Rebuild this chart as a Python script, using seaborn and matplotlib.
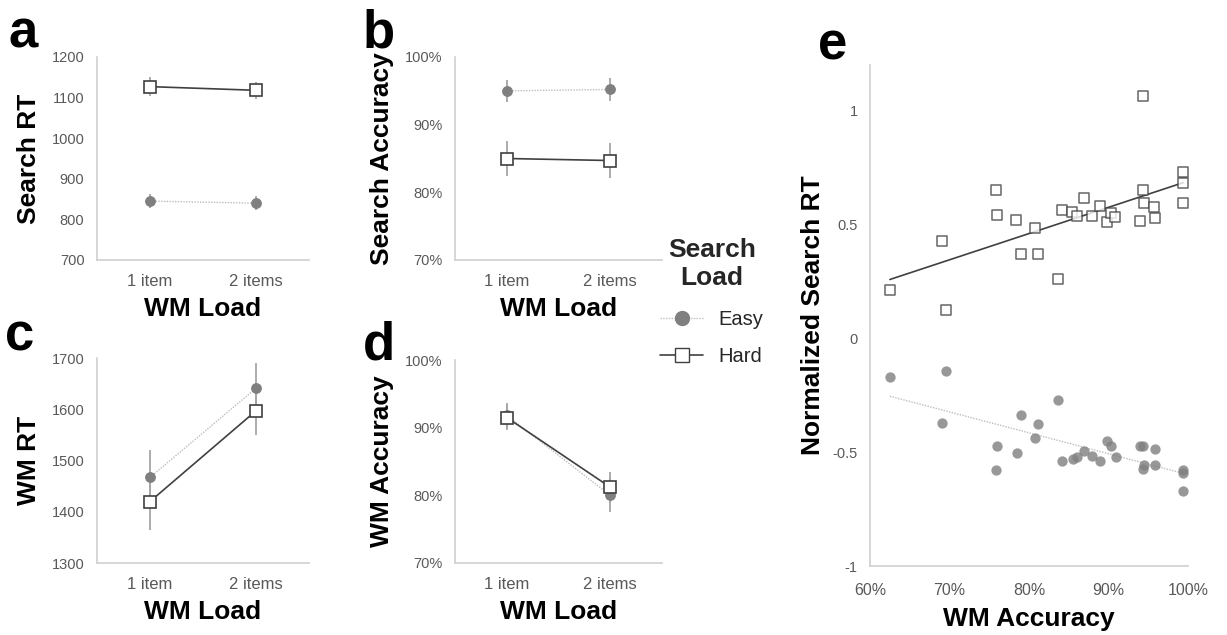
import numpy as np
import pandas as pd
import matplotlib
matplotlib.use("Agg")
import matplotlib.pyplot as plt
from matplotlib.lines import Line2D
from matplotlib.ticker import FuncFormatter
import seaborn as sns

# ---------------- data ----------------
wm_load = ["1 item", "2 items"]

search_rt_easy = [845, 840]
search_rt_easy_err = [18, 18]
search_rt_hard = [1127, 1118]
search_rt_hard_err = [23, 21]

search_acc_easy = [0.950, 0.952]
search_acc_easy_err = [0.016, 0.017]
search_acc_hard = [0.850, 0.847]
search_acc_hard_err = [0.026, 0.026]

wm_rt_easy = [1467, 1641]
wm_rt_easy_err = [53, 50]
wm_rt_hard = [1420, 1597]
wm_rt_hard_err = [55, 47]

wm_acc_easy = [0.918, 0.800]
wm_acc_easy_err = [0.019, 0.025]
wm_acc_hard = [0.915, 0.812]
wm_acc_hard_err = [0.019, 0.023]

hard_x = [0.625, 0.690, 0.696, 0.758, 0.760, 0.784, 0.790, 0.811, 0.807, 0.837,
          0.842, 0.854, 0.861, 0.869, 0.879, 0.889, 0.898, 0.903, 0.908, 0.939,
          0.943, 0.943, 0.945, 0.957, 0.958, 0.994, 0.994, 0.994]
hard_y = [0.21, 0.425, 0.126, 0.652, 0.543, 0.519, 0.370, 0.370, 0.484, 0.259,
          0.564, 0.554, 0.535, 0.615, 0.538, 0.583, 0.510, 0.550, 0.531, 0.513,
          1.063, 0.650, 0.593, 0.575, 0.528, 0.732, 0.681, 0.593]
easy_x = [0.625, 0.696, 0.690, 0.760, 0.759, 0.785, 0.790, 0.811, 0.807, 0.837,
          0.842, 0.855, 0.861, 0.869, 0.879, 0.889, 0.898, 0.903, 0.909, 0.939,
          0.944, 0.943, 0.945, 0.958, 0.958, 0.994, 0.994, 0.994]
easy_y = [-0.170, -0.145, -0.374, -0.474, -0.580, -0.503, -0.335, -0.376, -0.440, -0.269,
          -0.539, -0.532, -0.522, -0.496, -0.515, -0.537, -0.452, -0.474, -0.522, -0.474,
          -0.474, -0.573, -0.557, -0.485, -0.557, -0.580, -0.591, -0.671]

# ---------------- style ----------------
sns.set_theme(style="white")
plt.rcParams['font.family'] = ['Liberation Sans', 'DejaVu Sans']

EASY_MK = "#7f7f7f"
EASY_LN = "#bdbdbd"
HARD_LN = "#404040"
ERR_C = "#a6a6a6"
SPINE_C = "#d0d0d0"
TICK_C = "#595959"
LABEL_FS = 19

W, H = 1227, 635
fig = plt.figure(figsize=(W / 100, H / 100), dpi=100)


def axes_px(left, top, right, bottom):
    return fig.add_axes([left / W, 1 - bottom / H, (right - left) / W, (bottom - top) / H])


def style_axes(ax, xfs=12, yfs=10.5):
    for s in ["top", "right"]:
        ax.spines[s].set_visible(False)
    for s in ["left", "bottom"]:
        ax.spines[s].set_color(SPINE_C)
        ax.spines[s].set_linewidth(1.2)
    ax.tick_params(axis="x", length=0, pad=10, labelsize=xfs, labelcolor=TICK_C)
    ax.tick_params(axis="y", length=0, pad=9, labelsize=yfs, labelcolor=TICK_C)
    ax.grid(False)


def small_panel(ax, easy, easy_err, hard, hard_err, ylim, yticks, ylabel, pct=False):
    df = pd.DataFrame({"load": wm_load * 2,
                       "val": list(easy) + list(hard),
                       "cond": ["Easy"] * 2 + ["Hard"] * 2})
    ax.errorbar(wm_load, easy, yerr=easy_err, fmt="none", ecolor=ERR_C, elinewidth=1.3, capsize=0, zorder=1)
    ax.errorbar(wm_load, hard, yerr=hard_err, fmt="none", ecolor=ERR_C, elinewidth=1.3, capsize=0, zorder=1)
    sns.lineplot(data=df[df.cond == "Easy"], x="load", y="val", ax=ax, color=EASY_LN,
                 linestyle=(0, (1, 1)), lw=1.0, marker="o", markersize=7,
                 markerfacecolor=EASY_MK, markeredgecolor=EASY_MK, zorder=2)
    sns.lineplot(data=df[df.cond == "Hard"], x="load", y="val", ax=ax, color=HARD_LN,
                 lw=1.2, marker="s", markersize=8, markerfacecolor="white",
                 markeredgecolor=HARD_LN, markeredgewidth=1.2, zorder=3)
    ax.set_xlim(-0.5, 1.5)
    ax.set_ylim(*ylim)
    ax.set_yticks(yticks)
    if pct:
        ax.yaxis.set_major_formatter(FuncFormatter(lambda v, p: f"{v*100:.0f}%"))
    style_axes(ax)
    ax.set_xlabel("WM Load", fontsize=LABEL_FS, fontweight="bold", color="black", labelpad=6)
    ax.set_ylabel(ylabel, fontsize=LABEL_FS, fontweight="bold", color="black", labelpad=8)


ax_a = axes_px(97, 57, 309, 260)
small_panel(ax_a, search_rt_easy, search_rt_easy_err, search_rt_hard, search_rt_hard_err,
            (700, 1200), [700, 800, 900, 1000, 1100, 1200], "Search RT")

ax_b = axes_px(455, 57, 662, 260)
small_panel(ax_b, search_acc_easy, search_acc_easy_err, search_acc_hard, search_acc_hard_err,
            (0.7, 1.0), [0.7, 0.8, 0.9, 1.0], "Search Accuracy", pct=True)

ax_c = axes_px(97, 358, 309, 563)
small_panel(ax_c, wm_rt_easy, wm_rt_easy_err, wm_rt_hard, wm_rt_hard_err,
            (1300, 1700), [1300, 1400, 1500, 1600, 1700], "WM RT")

ax_d = axes_px(455, 360, 662, 563)
small_panel(ax_d, wm_acc_easy, wm_acc_easy_err, wm_acc_hard, wm_acc_hard_err,
            (0.7, 1.0), [0.7, 0.8, 0.9, 1.0], "WM Accuracy", pct=True)

# ---------------- panel e ----------------
ax_e = axes_px(870, 65, 1188, 566)
sns.regplot(x=np.array(easy_x), y=np.array(easy_y), ax=ax_e, ci=None, marker="o",
            scatter_kws=dict(s=55, color=EASY_MK, edgecolor=EASY_MK, linewidths=0, zorder=2),
            line_kws=dict(color=EASY_LN, lw=1.0, linestyle=(0, (1, 1)), zorder=1))
sns.regplot(x=np.array(hard_x), y=np.array(hard_y), ax=ax_e, ci=None, marker="s",
            scatter_kws=dict(s=48, facecolor="white", edgecolor=HARD_LN, linewidths=1.1, zorder=3),
            line_kws=dict(color=HARD_LN, lw=1.2, zorder=2))
ax_e.set_xlim(0.6, 1.0)
ax_e.set_ylim(-1.0, 1.2)
ax_e.set_xticks([0.6, 0.7, 0.8, 0.9, 1.0])
ax_e.set_yticks([-1, -0.5, 0, 0.5, 1])
ax_e.xaxis.set_major_formatter(FuncFormatter(lambda v, p: f"{v*100:.0f}%"))
ax_e.yaxis.set_major_formatter(FuncFormatter(lambda v, p: f"{v:g}"))
style_axes(ax_e, xfs=11.5, yfs=10.5)
ax_e.tick_params(axis="x", pad=12)
ax_e.set_xlabel("WM Accuracy", fontsize=LABEL_FS, fontweight="bold", color="black", labelpad=7)
ax_e.set_ylabel("Normalized Search RT", fontsize=LABEL_FS, fontweight="bold", color="black", labelpad=5)

# ---------------- legend ----------------
handles = [
    Line2D([], [], color=EASY_LN, linestyle=(0, (1, 1)), lw=1.0, marker="o", markersize=10,
           markerfacecolor=EASY_MK, markeredgecolor=EASY_MK),
    Line2D([], [], color=HARD_LN, lw=1.2, marker="s", markersize=10,
           markerfacecolor="white", markeredgecolor=HARD_LN),
]
leg = fig.legend(handles, ["Easy", "Hard"], loc="center", bbox_to_anchor=(712 / W, 1 - 302 / H),
                 frameon=False, fontsize=14.5, handlelength=2.1, labelspacing=0.9,
                 handletextpad=0.8, title="Search\nLoad")
leg.get_title().set_fontsize(LABEL_FS)
leg.get_title().set_fontweight("bold")
leg.get_title().set_multialignment("center")
leg._legend_box.sep = 14

# ---------------- panel letters ----------------
for letter, xp, yp in [("a", 8, 47), ("b", 363, 47), ("c", 5, 351), ("d", 363, 360), ("e", 818, 60)]:
    fig.text(xp / W, 1 - yp / H, letter, fontsize=38, fontweight="bold", color="black",
             ha="left", va="baseline")

fig.savefig("out.png", dpi=100)
